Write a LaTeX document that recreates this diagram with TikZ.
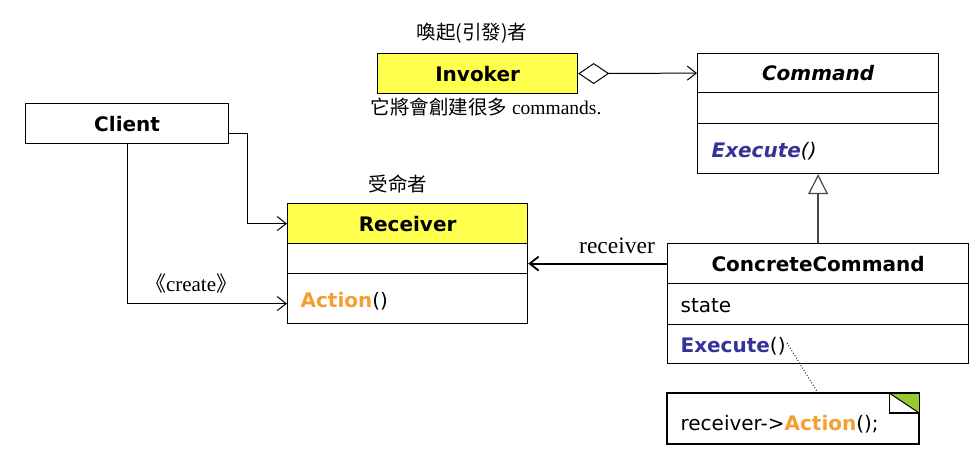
\documentclass[tikz,border=0pt]{standalone}
\usepackage{fontspec}
\setmainfont{Liberation Serif}
\newfontfamily\vf{DejaVu Sans}[ItalicFont={DejaVu Sans Oblique},BoldFont={DejaVu Sans Bold},BoldItalicFont={DejaVu Sans Bold Oblique}]
\newfontfamily\cjk{Noto Sans CJK TC}
\usetikzlibrary{arrows.meta,calc}
\definecolor{umlyellow}{RGB}{255,255,77}
\definecolor{umlblue}{RGB}{51,51,153}
\definecolor{umlorange}{RGB}{242,160,52}
\definecolor{umlgreen}{RGB}{153,200,51}
\definecolor{genline}{RGB}{70,70,70}
\tikzset{
  box/.style={draw, line width=1.2pt, inner sep=0pt, anchor=north west,
    font=\vf\fontsize{20}{24}\selectfont},
  titlebox/.style={box, font=\vf\bfseries\fontsize{20}{24}\selectfont},
  cmpbox/.style={box, inner xsep=13pt, align=left, text depth=4pt},
  lbl/.style={inner sep=0pt, font=\fontsize{19.5}{23}\selectfont},
  conn/.style={line width=1pt, -{Straight Barb[length=9pt,width=14pt]}},
}
\begin{document}
\begin{tikzpicture}[x=1pt,y=-1pt]
\useasboundingbox (0,0) rectangle (976,462);
% Invoker
\node[titlebox, fill=umlyellow, minimum width=200pt, minimum height=40pt] (inv) at (377,53) {Invoker};
\node[lbl] (invlbl) at (472,33) {\cjk 喚起(引發)者};
\node[lbl] (invnote) at (486,107) {{\cjk 它將會創建很多} commands.};
% Command
\node[titlebox, minimum width=241pt, minimum height=39pt] (cmdT) at (697,53) {\itshape Command};
\node[box, minimum width=241pt, minimum height=31pt] (cmdA) at (697,92) {};
\node[cmpbox, text width=213pt, inner xsep=14pt, minimum height=50pt, text height=22pt] (cmdO) at (697,123) {{\bfseries\itshape\color{umlblue}Execute}{\itshape ()}};
% Client
\node[titlebox, minimum width=203pt, minimum height=40pt] (client) at (25,103) {Client};
% Receiver
\node[lbl] (reclbl) at (398,184) {\cjk 受命者};
\node[titlebox, fill=umlyellow, minimum width=240pt, minimum height=40pt] (recT) at (287,203) {Receiver};
\node[box, minimum width=240pt, minimum height=30pt] (recA) at (287,243) {};
\node[cmpbox, text width=214pt, minimum height=50pt, text height=22pt] (recO) at (287,273) {{\bfseries\color{umlorange}Action}()};
% ConcreteCommand
\node[titlebox, minimum width=301pt, minimum height=40pt] (ccT) at (667,243) {ConcreteCommand};
\node[cmpbox, text width=275pt, minimum height=41pt, text height=21pt] (ccA) at (667,283) {state};
\node[cmpbox, text width=275pt, minimum height=39pt, text height=21pt] (ccO) at (667,324) {{\bfseries\color{umlblue}Execute}()};
% Note
\node[cmpbox, text width=225pt, minimum height=50pt, text height=28pt] (note) at (667,393) {receiver->{\bfseries\color{umlorange}Action}();};
\fill[umlgreen] ($(note.north east)+(-30,0)$) -- (note.north east) -- ($(note.north east)+(0,20)$) -- cycle;
\draw[line width=1.2pt] ($(note.north east)+(-30,0)$) -- ++(0,20) -- ++(30,0);
\draw[line width=1pt] ($(note.north east)+(-30,0)$) -- ($(note.north east)+(0,20)$);
\draw[line width=1.2pt] (note.north west) rectangle (note.south east);
% connectors
\draw[line width=1pt, {Diamond[open,length=31pt,width=21pt]}-{Straight Barb[length=9pt,width=14pt]}] (inv.east) -- (cmdT.west);
\draw[line width=1.8pt, draw=genline, -{Triangle[open,length=20pt,width=20pt,line width=1.2pt]}] (ccT.north) -- (cmdO.south);
\draw[conn, line width=1.8pt] (ccT.west) -- (ccT.west -| recA.east) node[pos=0.36, above=9pt, lbl, font=\fontsize{23.5}{27}\selectfont] (reclab) {receiver};
\draw[conn] ($(client.east)+(0,10)$) -| ($(recT.west)+(-40,0)$) -- (recT.west);
\draw[conn] (client.south) |- ($(recO.west)+(0,5)$) node[pos=0.70, above=10pt, lbl, font=\fontsize{21}{25}\selectfont] (create) {{\cjk 《}create{\cjk 》}};
\coordinate (exend) at (787,343);
\draw[line width=0.9pt, dotted] (exend) -- ($(note.north west)+(151,0)$);
\end{tikzpicture}
\end{document}
